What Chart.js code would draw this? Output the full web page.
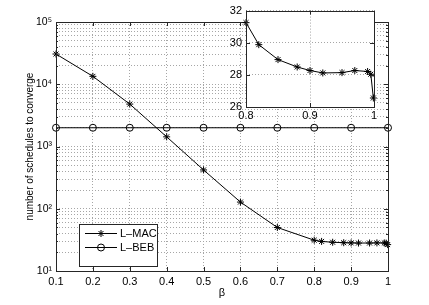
<!DOCTYPE html>
<html>
<head>
<meta charset="utf-8">
<script src="https://cdn.jsdelivr.net/npm/chart.js@4/dist/chart.umd.min.js"></script>
<style>
html, body { margin: 0; padding: 0; background: #fff; }
#wrap { position: relative; width: 429px; height: 305px; }
#main { position: absolute; left: 0; top: 0; }
#inset { position: absolute; left: 215px; top: 0; }
</style>
</head>
<body>
<div id="wrap">
  <canvas id="main" width="429" height="305"></canvas>
  <canvas id="inset" width="170" height="125"></canvas>
</div>
<script>
"use strict";

// L-MAC (main plot + inset)
const betas = [0.1, 0.2, 0.3, 0.4, 0.5, 0.6, 0.7, 0.8, 0.82, 0.85, 0.88, 0.9, 0.92, 0.95, 0.97, 0.99, 0.995, 0.999];
const lmac = [30600, 13400, 4800, 1430, 420, 128, 50, 31.25, 29.88, 28.95, 28.49, 28.27, 28.12, 28.14, 28.27, 28.21, 28.04, 26.56];

// L-BEB, flat line
const bebBetas = [0.1, 0.2, 0.3, 0.4, 0.5, 0.6, 0.7, 0.8, 0.9, 1.0];
const beb = [2000, 2000, 2000, 2000, 2000, 2000, 2000, 2000, 2000, 2000];

const seriesNames = ["L\u2013MAC", "L\u2013BEB"];

const xTicks = [0.1, 0.2, 0.3, 0.4, 0.5, 0.6, 0.7, 0.8, 0.9, 1];
const yTicks = [10, 20, 30, 40, 50, 60, 70, 80, 90,
                100, 200, 300, 400, 500, 600, 700, 800, 900,
                1000, 2000, 3000, 4000, 5000, 6000, 7000, 8000, 9000,
                10000, 20000, 30000, 40000, 50000, 60000, 70000, 80000, 90000, 100000];
const yTickLabels = { 10: "10\u00B9", 100: "10\u00B2", 1000: "10\u00B3", 10000: "10\u2074", 100000: "10\u2075" };

const insetXTicks = [0.8, 0.9, 1];
const insetYTicks = [26, 28, 30, 32];

Chart.defaults.font.family = "'Liberation Sans', Arial, Helvetica, sans-serif";
Chart.defaults.color = "#000";

const GRID = "#a6a6a6";
const FRAME = "#262626";

function drawStar(ctx, x, y, r) {
  ctx.beginPath();
  for (let k = 0; k < 4; k++) {
    const a = k * Math.PI / 4;
    ctx.moveTo(x - r * Math.cos(a), y - r * Math.sin(a));
    ctx.lineTo(x + r * Math.cos(a), y + r * Math.sin(a));
  }
  ctx.stroke();
}

function drawCircle(ctx, x, y, r) {
  ctx.beginPath();
  ctx.arc(x, y, r, 0, Math.PI * 2);
  ctx.stroke();
}

// box round the axes + inward ticks, like matlab
function drawFrame(chart) {
  const { ctx, chartArea: a, scales } = chart;
  ctx.save();
  ctx.strokeStyle = FRAME;
  ctx.lineWidth = 1;
  ctx.beginPath();
  scales.x.ticks.forEach(t => {
    const px = Math.round(scales.x.getPixelForValue(t.value)) + 0.5;
    ctx.moveTo(px, a.bottom); ctx.lineTo(px, a.bottom - 4);
    ctx.moveTo(px, a.top); ctx.lineTo(px, a.top + 4);
  });
  scales.y.ticks.forEach(t => {
    const len = t.label ? 4 : 2;
    const py = Math.round(scales.y.getPixelForValue(t.value)) + 0.5;
    ctx.moveTo(a.left, py); ctx.lineTo(a.left + len, py);
    ctx.moveTo(a.right, py); ctx.lineTo(a.right - len, py);
  });
  ctx.stroke();
  ctx.strokeRect(Math.round(a.left) + 0.5, Math.round(a.top) + 0.5,
                 Math.round(a.right - a.left), Math.round(a.bottom - a.top));
  ctx.restore();
}

const framePlugin = {
  id: "frame",
  afterDatasetsDraw(chart) { drawFrame(chart); }
};

const whiteAreaPlugin = {
  id: "whiteArea",
  beforeDraw(chart) {
    const { ctx, chartArea: a } = chart;
    ctx.save();
    ctx.fillStyle = "#fff";
    ctx.fillRect(a.left, a.top, a.right - a.left, a.bottom - a.top);
    ctx.restore();
  }
};

const legendPlugin = {
  id: "boxLegend",
  afterDraw(chart) {
    const ctx = chart.ctx;
    const x0 = 79, y0 = 224, w = 78, h = 42;
    ctx.save();
    ctx.fillStyle = "#fff";
    ctx.fillRect(x0, y0, w, h);
    ctx.strokeStyle = FRAME;
    ctx.lineWidth = 1;
    ctx.strokeRect(x0 + 0.5, y0 + 0.5, w, h);
    const rows = [233.5, 247.5];
    ctx.font = "11px 'Liberation Sans', Arial, sans-serif";
    ctx.textBaseline = "middle";
    ctx.textAlign = "left";
    rows.forEach((ry, i) => {
      ctx.strokeStyle = "#000";
      ctx.lineWidth = 1;
      ctx.beginPath();
      ctx.moveTo(85, ry); ctx.lineTo(117, ry);
      ctx.stroke();
      if (i === 0) drawStar(ctx, 101, ry, 3.5);
      else drawCircle(ctx, 101, ry, 3.5);
      ctx.fillStyle = "#000";
      ctx.fillText(seriesNames[i], 120, ry + 0.5);
    });
    ctx.restore();
  }
};

const lineStyle = {
  borderColor: "#000",
  borderWidth: 1,
  pointBorderColor: "#000",
  pointBackgroundColor: "transparent",
  pointBorderWidth: 1,
  pointRadius: 3.5,
  fill: false,
  tension: 0,
  clip: false
};

new Chart(document.getElementById("main"), {
  type: "line",
  data: {
    datasets: [
      Object.assign({ label: seriesNames[0], pointStyle: "star",
        data: betas.map((b, i) => ({ x: b, y: lmac[i] })) }, lineStyle),
      Object.assign({ label: seriesNames[1], pointStyle: "circle",
        data: bebBetas.map((b, i) => ({ x: b, y: beb[i] })) }, lineStyle)
    ]
  },
  options: {
    responsive: false,
    animation: false,
    layout: { padding: { left: 0, right: 41, top: 22, bottom: 0 } },
    plugins: { legend: { display: false }, tooltip: { enabled: false } },
    scales: {
      x: {
        type: "linear", min: 0.1, max: 1,
        afterBuildTicks: s => { s.ticks = xTicks.map(v => ({ value: v })); },
        afterFit: s => { s.height = 34; },
        ticks: { autoSkip: false, maxRotation: 0, padding: 4, font: { size: 11 },
                 callback: v => String(+v.toFixed(2)) },
        grid: { color: GRID, lineWidth: 1, drawTicks: false },
        border: { display: false, dash: [1, 2] },
        title: { display: true, text: "\u03B2", font: { size: 11 }, padding: { top: 0, bottom: 5 } }
      },
      y: {
        type: "logarithmic", min: 10, max: 100000,
        afterBuildTicks: s => { s.ticks = yTicks.map(v => ({ value: v })); },
        afterFit: s => { s.width = 56; },
        ticks: { autoSkip: false, padding: 4, font: { size: 10.5 },
                 callback: v => yTickLabels[v] || "" },
        grid: { color: GRID, lineWidth: 1, drawTicks: false },
        border: { display: false, dash: [1, 2] },
        title: { display: true, text: "number of schedules to converge", font: { size: 10 },
                 padding: { top: 24, bottom: 0 } }
      }
    }
  },
  plugins: [framePlugin, legendPlugin]
});

// zoomed part, 0.8 .. 1
const insetIdx = betas.map((b, i) => i).filter(i => betas[i] >= 0.8);

new Chart(document.getElementById("inset"), {
  type: "line",
  data: {
    datasets: [
      Object.assign({ label: seriesNames[0], pointStyle: "star",
        data: insetIdx.map(i => ({ x: betas[i], y: lmac[i] })) }, lineStyle)
    ]
  },
  options: {
    responsive: false,
    animation: false,
    layout: { padding: { left: 0, right: 11, top: 10, bottom: 0 } },
    plugins: { legend: { display: false }, tooltip: { enabled: false } },
    scales: {
      x: {
        type: "linear", min: 0.8, max: 1,
        afterBuildTicks: s => { s.ticks = insetXTicks.map(v => ({ value: v })); },
        afterFit: s => { s.height = 18; },
        ticks: { autoSkip: false, maxRotation: 0, padding: 2.5, font: { size: 11 },
                 callback: v => String(+v.toFixed(2)) },
        grid: { color: GRID, lineWidth: 1, drawTicks: false },
        border: { display: false, dash: [1, 2] }
      },
      y: {
        type: "linear", min: 26, max: 32,
        afterBuildTicks: s => { s.ticks = insetYTicks.map(v => ({ value: v })); },
        afterFit: s => { s.width = 31; },
        ticks: { autoSkip: false, padding: 4, font: { size: 11 } },
        grid: { color: GRID, lineWidth: 1, drawTicks: false },
        border: { display: false, dash: [1, 2] }
      }
    }
  },
  plugins: [whiteAreaPlugin, framePlugin]
});
</script>
</body>
</html>
